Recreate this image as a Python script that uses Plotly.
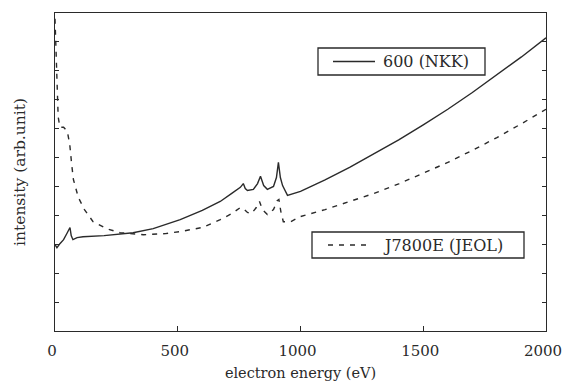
import plotly.graph_objects as go

# electron energy (eV) and intensity (arb. unit)
nkk_energy = [0, 8, 20, 35, 50, 61, 66, 73, 90, 114, 200, 318, 400, 510, 600, 673, 720, 755,
              767, 775, 784, 808, 825, 837, 850, 865, 890, 902, 910, 918, 927, 947, 1000,
              1100, 1200, 1300, 1400, 1500, 1600, 1700, 1800, 1900, 2000]
nkk_intensity = [2.99, 2.88, 3.02, 3.16, 3.40, 3.58, 3.30, 3.16, 3.23, 3.26, 3.30, 3.40, 3.54,
                 3.85, 4.17, 4.48, 4.76, 4.97, 5.10, 4.93, 4.86, 4.90, 5.10, 5.35, 5.03, 4.90,
                 5.00, 5.31, 5.83, 5.31, 5.03, 4.69, 4.83, 5.23, 5.66, 6.13, 6.61, 7.13, 7.67,
                 8.25, 8.85, 9.48, 10.14]

jeol_energy = [0, 4, 8, 13, 20, 35, 50, 60, 68, 75, 95, 120, 155, 210, 265, 360, 450, 510, 600,
               673, 720, 755, 767, 784, 800, 820, 833, 845, 865, 890, 905, 912, 920, 930, 960,
               1000, 1100, 1200, 1300, 1400, 1500, 1600, 1700, 1800, 1900, 2000]
jeol_intensity = [10.80, 9.76, 8.37, 7.40, 7.05, 7.05, 6.91, 6.46, 5.76, 5.24, 4.62, 4.20, 3.78,
                  3.54, 3.40, 3.33, 3.37, 3.44, 3.58, 3.85, 4.06, 4.27, 4.24, 4.10, 4.06, 4.27,
                  4.48, 4.20, 4.03, 4.20, 4.51, 4.55, 4.13, 3.78, 3.78, 3.96, 4.20, 4.47, 4.76,
                  5.09, 5.45, 5.83, 6.25, 6.69, 7.17, 7.67]

x_ticks = [0, 500, 1000, 1500, 2000]
series_names = ["600 (NKK)", "J7800E (JEOL)"]

SERIF = "DejaVu Serif"
INK = "#2a2a2a"
DASH = "5px,6px"

# plot area geometry (pixels) used to place legend boxes in paper coordinates
L, R, T, B = 55, 546, 13, 331


def px_x(p):
    return (p - L) / (R - L)


def px_y(p):
    return (B - p) / (B - T)


fig = go.Figure()
fig.add_trace(go.Scatter(x=nkk_energy, y=nkk_intensity, mode="lines", name=series_names[0],
                         line=dict(color=INK, width=1.4), showlegend=False))
fig.add_trace(go.Scatter(x=jeol_energy, y=jeol_intensity, mode="lines", name=series_names[1],
                         line=dict(color=INK, width=1.4, dash=DASH), showlegend=False))

# legend boxes drawn as shapes + text (two separate boxes as in the reference)
boxes = [
    dict(x0=318, x1=485, y0=48, y1=75, lx0=333, lx1=375, tx=381, dash="solid"),
    dict(x0=312, x1=524, y0=232, y1=258, lx0=328, lx1=370, tx=381, dash=DASH),
]
shapes, annotations = [], []
for b, name in zip(boxes, series_names):
    shapes.append(dict(type="rect", xref="paper", yref="paper",
                       x0=px_x(b["x0"]), x1=px_x(b["x1"]), y0=px_y(b["y1"]), y1=px_y(b["y0"]),
                       line=dict(color=INK, width=1.3), fillcolor="white", layer="above"))
    ym = px_y((b["y0"] + b["y1"]) / 2)
    shapes.append(dict(type="line", xref="paper", yref="paper",
                       x0=px_x(b["lx0"]), x1=px_x(b["lx1"]), y0=ym, y1=ym,
                       line=dict(color=INK, width=1.4, dash=b["dash"]), layer="above"))
    annotations.append(dict(xref="paper", yref="paper", x=px_x(b["tx"]), y=ym,
                            xanchor="left", yanchor="middle", showarrow=False, text=name,
                            font=dict(family=SERIF, size=16, color=INK)))

fig.update_layout(
    width=564, height=384,
    margin=dict(l=L, r=564 - R, t=T, b=384 - B),
    paper_bgcolor="white", plot_bgcolor="white",
    showlegend=False,
    shapes=shapes, annotations=annotations,
    xaxis=dict(range=[0, 2000], tickvals=x_ticks, ticks="inside", ticklen=5,
               tickcolor=INK, showline=True, linecolor=INK, linewidth=1.4, mirror=True,
               showgrid=False, zeroline=False, automargin=False, ticklabelstandoff=6,
               ticklabeloverflow="allow", ticklabelshift=-3,
               tickfont=dict(family=SERIF, size=15, color=INK),
               title=dict(text="electron energy (eV)", font=dict(family=SERIF, size=14.5, color=INK),
                          standoff=8)),
    yaxis=dict(range=[0, 11], dtick=1, ticks="inside", ticklen=4, tickcolor=INK,
               showticklabels=False, showline=True, linecolor=INK, linewidth=1.4,
               mirror="ticks", showgrid=False, zeroline=False, automargin=False,
               title=dict(text="intensity (arb.unit)", font=dict(family=SERIF, size=15.5, color=INK),
                          standoff=24)),
)

fig.write_html("out.html")
